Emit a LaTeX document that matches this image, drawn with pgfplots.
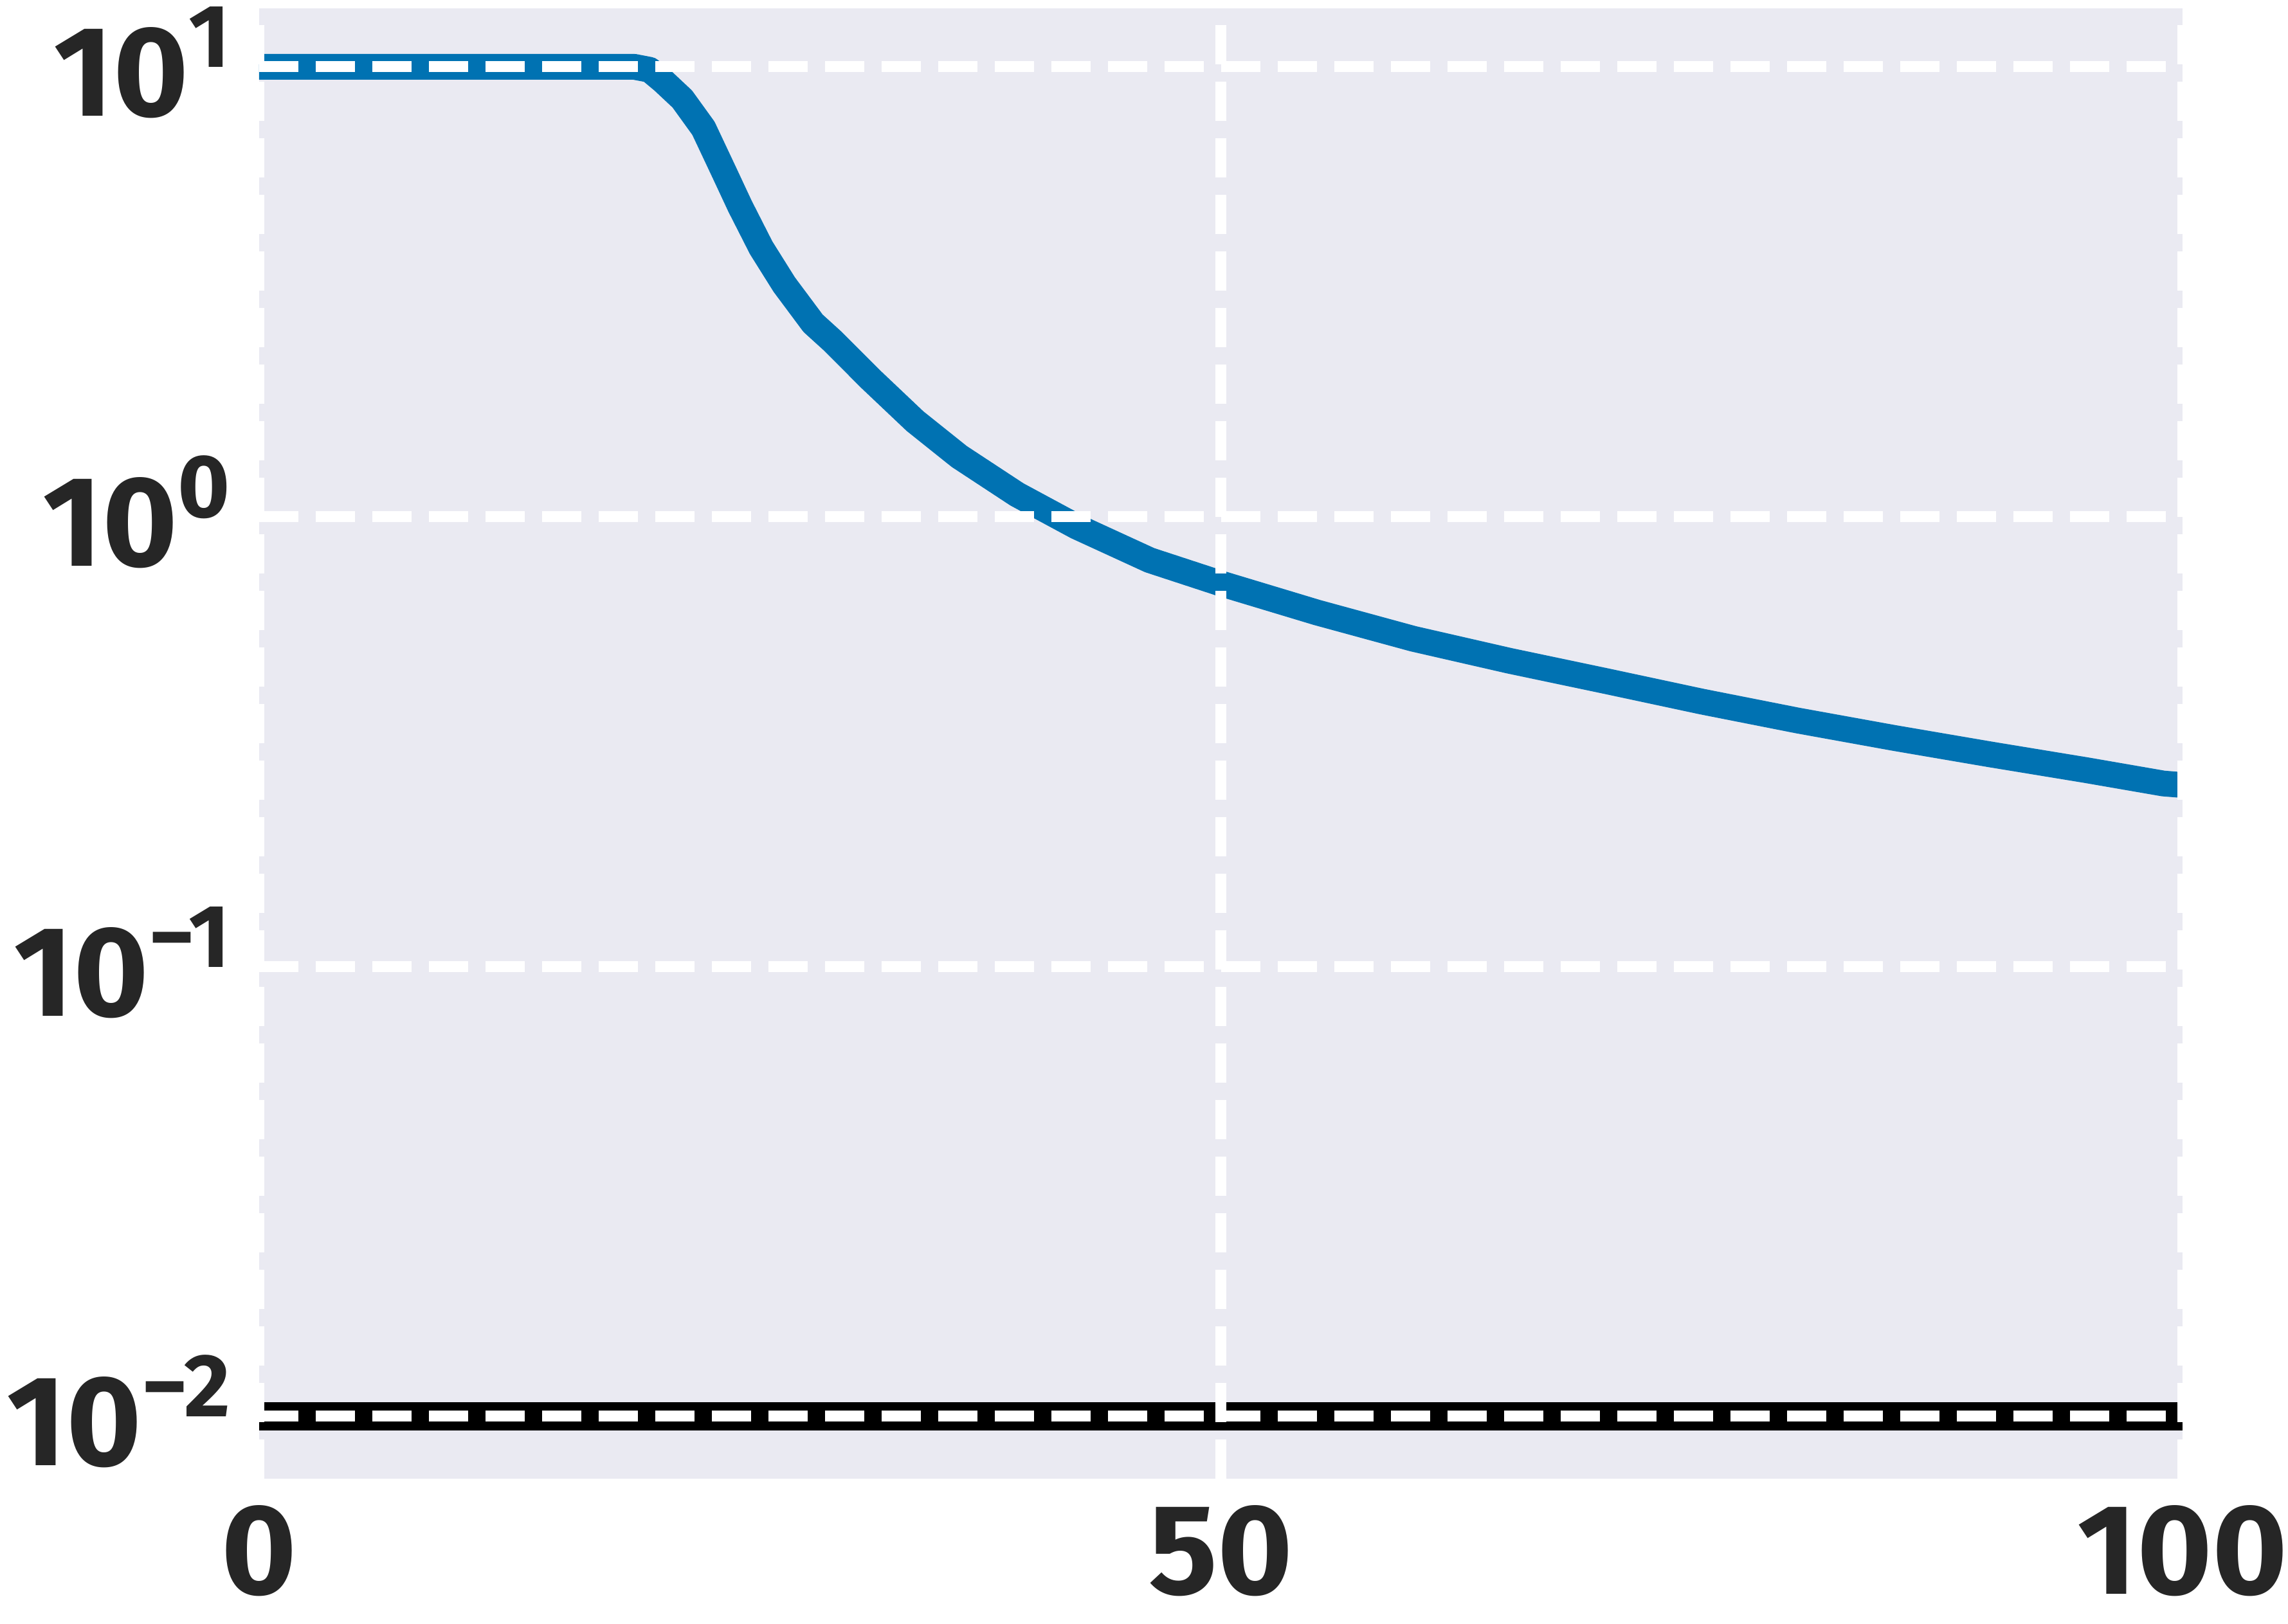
\documentclass[border=0pt]{standalone}
\usepackage{fontspec}
\setmainfont{Fira Sans}
\usepackage{pgfplots}
\pgfplotsset{compat=1.18}
\definecolor{bgc}{HTML}{EAEAF2}
\definecolor{sblue}{HTML}{0072B2}
\definecolor{lbl}{HTML}{262626}

\newcommand{\pw}[1]{10\raisebox{7.6pt}{\fontsize{13.9}{15}\selectfont #1}}

% blue curve
\pgfplotstableread{
x y
0 10
19.5 10
20.3 9.85
21.0 9.3
22.0 8.48
23.1 7.3
24.2 5.8
25.0 4.9
26.1 3.96
27.3 3.28
28.8 2.69
29.8 2.46
31.8 2.02
34.1 1.63
36.4 1.36
39.4 1.12
42.5 0.95
46.3 0.80
50 0.71
55 0.612
60 0.535
65 0.478
70 0.431
75 0.388
80 0.352
85 0.322
90 0.296
95 0.273
99 0.255
100 0.253
}\losscurve

\begin{document}
\begin{tikzpicture}
\begin{axis}[
  scale only axis, width=299.1pt, height=228.7pt,
  xmin=0, xmax=100,
  ymode=log, ymin=0.00726, ymax=13.49,
  xtick={0,50,100}, xticklabels={0,50,100},
  ytick={0.01,0.1,1,10},
  yticklabels={\pw{−2},\pw{−1},\pw{0},\pw{1}},
  axis background/.style={fill=bgc},
  axis line style={draw=none},
  major tick length=0pt, minor tick length=0pt,
  grid=major,
  major grid style={white, line width=1.7pt, dash pattern=on 6.1pt off 2.7pt},
  axis on top,
  tick label style={font=\fontsize{20}{24}\selectfont\bfseries, text=lbl, inner sep=0pt},
  yticklabel style={anchor=base east, xshift=-4.3pt, yshift=-7.7pt},
  xticklabel style={anchor=north, yshift=-4pt},
]
\addplot[black, line width=4.4pt] coordinates {(0,0.01) (100,0.01)};
\addplot[sblue, line width=4pt, line join=round] table {\losscurve};
\coordinate (sw) at (rel axis cs:0,0);
\coordinate (ne) at (rel axis cs:1,1);
\end{axis}
\pgfresetboundingbox
\path ([shift={(-40.3pt,-22.6pt)}]sw) rectangle ([shift={(16.4pt,1.3pt)}]ne);
\end{tikzpicture}
\end{document}
